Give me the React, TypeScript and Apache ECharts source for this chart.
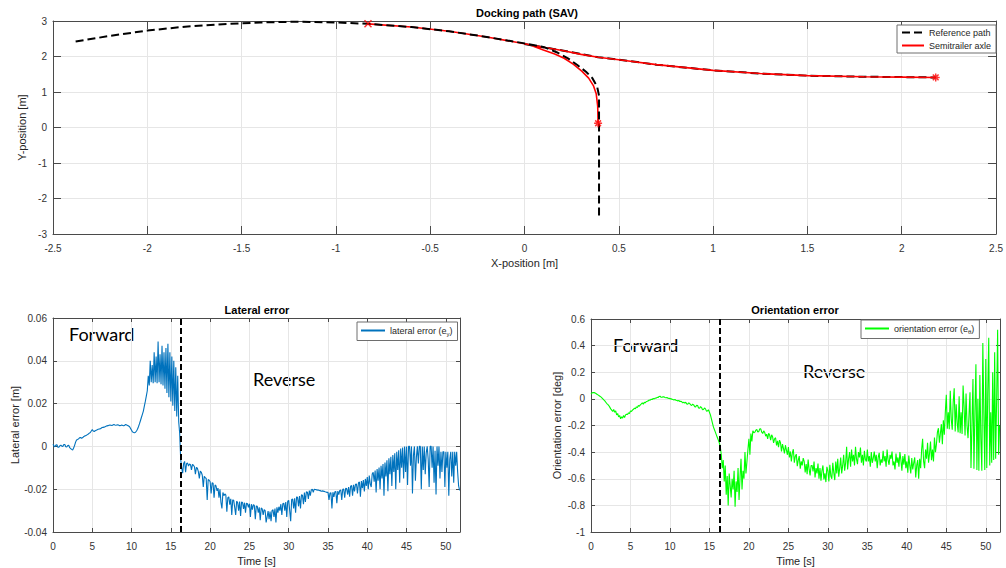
import React, { useEffect, useRef } from "react";
import * as echarts from "echarts";

// ---------- Top plot: docking path ----------
const referencePath: number[][] = [
  [-2.38, 2.42], [-2.2, 2.58], [-2.0, 2.73], [-1.8, 2.84], [-1.6, 2.91], [-1.4, 2.96],
  [-1.2, 2.98], [-1.0, 2.96], [-0.83, 2.92], [-0.6, 2.83], [-0.4, 2.71], [-0.2, 2.55],
  [-0.1, 2.46], [0.0, 2.37], [0.1, 2.27], [0.17, 2.12], [0.23, 1.95], [0.28, 1.76],
  [0.326, 1.57], [0.36, 1.39], [0.385, 1.15], [0.395, 0.9], [0.395, 0.5], [0.395, -2.58],
];
const referenceForward: number[][] = [
  [0.0, 2.35], [0.2, 2.17], [0.39, 1.98], [0.5, 1.91], [0.7, 1.77], [1.0, 1.61],
  [1.25, 1.52], [1.5, 1.46], [1.8, 1.43], [2.0, 1.42], [2.18, 1.41],
];
const semitrailerAxle: number[][] = [
  [-0.83, 2.92], [-0.6, 2.83], [-0.4, 2.71], [-0.2, 2.55], [0.0, 2.36], [0.1, 2.26],
  [0.2, 2.17], [0.3, 2.06], [0.39, 1.98], [0.5, 1.91], [0.7, 1.77], [1.0, 1.61],
  [1.25, 1.52], [1.5, 1.46], [1.8, 1.43], [2.0, 1.42], [2.18, 1.41],
  [2.0, 1.42], [1.8, 1.43], [1.5, 1.46], [1.25, 1.52], [1.0, 1.61], [0.7, 1.77],
  [0.5, 1.91], [0.39, 1.98], [0.3, 2.06], [0.2, 2.17], [0.1, 2.26], [0.04, 2.3],
  [0.1, 2.18], [0.16, 2.07], [0.21, 1.95], [0.26, 1.78], [0.305, 1.58], [0.34, 1.39],
  [0.365, 1.18], [0.38, 0.95], [0.388, 0.6], [0.39, 0.12],
];
const startMarker: number[][] = [[-0.83, 2.92]];
const endMarkers: number[][] = [[2.18, 1.41], [0.39, 0.12]];

// ---------- Bottom plots: errors sampled every SAMPLE_STEP seconds (one row = 1 s) ----------
const SAMPLE_STEP = 0.125;
const lateralError: number[] = [
  0.0010, 0.0002, -0.0002, 0.0006, 0.0008, -0.0004, -0.0004, 0.0003,
  0.0006, 0.0001, 0.0000, 0.0009, 0.0009, -0.0002, -0.0003, 0.0004,
  0.0005, -0.0006, -0.0010, -0.0014, -0.0017, -0.0008, 0.0005, 0.0020,
  0.0030, 0.0032, 0.0035, 0.0040, 0.0042, 0.0038, 0.0040, 0.0045,
  0.0048, 0.0050, 0.0052, 0.0055, 0.0058, 0.0062, 0.0065, 0.0072,
  0.0078, 0.0072, 0.0070, 0.0073, 0.0075, 0.0078, 0.0080, 0.0081,
  0.0082, 0.0085, 0.0088, 0.0089, 0.0090, 0.0092, 0.0094, 0.0096,
  0.0097, 0.0099, 0.0100, 0.0099, 0.0098, 0.0100, 0.0102, 0.0100,
  0.0099, 0.0100, 0.0101, 0.0099, 0.0097, 0.0098, 0.0100, 0.0098,
  0.0096, 0.0099, 0.0102, 0.0100, 0.0098, 0.0095, 0.0092, 0.0084,
  0.0075, 0.0068, 0.0065, 0.0064, 0.0066, 0.0072, 0.0080, 0.0092,
  0.0105, 0.0120, 0.0135, 0.0150, 0.0165, 0.0188, 0.0210, 0.0235,
  0.0260, 0.0330, 0.0285, 0.0400, 0.0300, 0.0380, 0.0295, 0.0440,
  0.0300, 0.0420, 0.0295, 0.0490, 0.0300, 0.0430, 0.0290, 0.0470,
  0.0285, 0.0440, 0.0270, 0.0460, 0.0250, 0.0480, 0.0230, 0.0440,
  0.0210, 0.0420, 0.0190, 0.0400, 0.0165, 0.0370, 0.0140, 0.0330,
  0.0115, 0.0060, -0.0060, -0.0100, -0.0125, -0.0080, -0.0070, -0.0120,
  -0.0080, -0.0078, -0.0092, -0.0082, -0.0085, -0.0110, -0.0084, -0.0088,
  -0.0095, -0.0130, -0.0098, -0.0102, -0.0118, -0.0150, -0.0115, -0.0121,
  -0.0135, -0.0190, -0.0140, -0.0146, -0.0150, -0.0250, -0.0155, -0.0158,
  -0.0165, -0.0220, -0.0170, -0.0172, -0.0240, -0.0180, -0.0185, -0.0208,
  -0.0195, -0.0240, -0.0200, -0.0262, -0.0290, -0.0215, -0.0230, -0.0222,
  -0.0228, -0.0305, -0.0240, -0.0236, -0.0272, -0.0245, -0.0320, -0.0250,
  -0.0252, -0.0285, -0.0320, -0.0256, -0.0262, -0.0300, -0.0258, -0.0325,
  -0.0260, -0.0262, -0.0292, -0.0263, -0.0310, -0.0265, -0.0268, -0.0285,
  -0.0268, -0.0330, -0.0270, -0.0295, -0.0272, -0.0276, -0.0340, -0.0278,
  -0.0280, -0.0310, -0.0285, -0.0345, -0.0288, -0.0292, -0.0320, -0.0295,
  -0.0300, -0.0355, -0.0330, -0.0302, -0.0340, -0.0304, -0.0350, -0.0300,
  -0.0296, -0.0330, -0.0290, -0.0355, -0.0285, -0.0310, -0.0282, -0.0300,
  -0.0270, -0.0320, -0.0268, -0.0265, -0.0300, -0.0260, -0.0330, -0.0256,
  -0.0252, -0.0300, -0.0350, -0.0248, -0.0246, -0.0290, -0.0243, -0.0310,
  -0.0236, -0.0238, -0.0280, -0.0232, -0.0290, -0.0226, -0.0228, -0.0270,
  -0.0216, -0.0260, -0.0212, -0.0214, -0.0245, -0.0206, -0.0230, -0.0203,
  -0.0200, -0.0215, -0.0200, -0.0201, -0.0202, -0.0205, -0.0203, -0.0207,
  -0.0205, -0.0210, -0.0208, -0.0209, -0.0210, -0.0212, -0.0213, -0.0215,
  -0.0215, -0.0250, -0.0218, -0.0217, -0.0290, -0.0214, -0.0236, -0.0212,
  -0.0211, -0.0265, -0.0209, -0.0225, -0.0206, -0.0204, -0.0250, -0.0200,
  -0.0199, -0.0240, -0.0196, -0.0197, -0.0225, -0.0190, -0.0235, -0.0186,
  -0.0183, -0.0230, -0.0180, -0.0210, -0.0177, -0.0176, -0.0220, -0.0171,
  -0.0166, -0.0235, -0.0162, -0.0195, -0.0157, -0.0210, -0.0152, -0.0185,
  -0.0143, -0.0200, -0.0136, -0.0175, -0.0190, -0.0129, -0.0121, -0.0165,
  -0.0113, -0.0215, -0.0106, -0.0160, -0.0099, -0.0200, -0.0091, -0.0150,
  -0.0082, -0.0230, -0.0075, -0.0140, -0.0065, -0.0210, -0.0055, -0.0130,
  -0.0048, -0.0185, -0.0040, -0.0120, -0.0032, -0.0200, -0.0025, -0.0110,
  -0.0018, -0.0170, -0.0010, -0.0100, -0.0005, -0.0150, 0.0000, -0.0120,
  0.0000, -0.0180, 0.0000, 0.0000, -0.0090, 0.0000, -0.0220, -0.0040,
  0.0000, -0.0160, -0.0050, 0.0000, -0.0080, 0.0000, 0.0000, -0.0200,
  0.0000, -0.0110, 0.0000, -0.0130, -0.0030, 0.0000, -0.0060, -0.0190,
  0.0000, 0.0000, -0.0100, 0.0000, -0.0170, -0.0020, -0.0225, 0.0000,
  -0.0090, 0.0000, -0.0150, -0.0025, -0.0120, -0.0025, -0.0025, -0.0190,
  -0.0025, -0.0100, -0.0025, -0.0230, -0.0060, -0.0025, -0.0140, -0.0025,
  -0.0170, -0.0025, -0.0090, -0.0025, -0.0120, -0.0185, -0.0205,
];
const orientationError: number[] = [
  0.035, 0.044, 0.048, 0.047, 0.045, 0.040, 0.035, 0.030,
  0.025, 0.020, 0.015, 0.008, 0.000, -0.008, -0.015, -0.025,
  -0.035, -0.042, -0.050, -0.062, -0.075, -0.085, -0.095, -0.080,
  -0.100, -0.090, -0.120, -0.110, -0.135, -0.125, -0.150, -0.135,
  -0.145, -0.125, -0.140, -0.120, -0.115, -0.118, -0.105, -0.110,
  -0.090, -0.095, -0.085, -0.078, -0.070, -0.075, -0.060, -0.065,
  -0.050, -0.055, -0.045, -0.038, -0.030, -0.040, -0.025, -0.030,
  -0.020, -0.018, -0.015, -0.008, -0.010, -0.002, -0.005, 0.003,
  0.000, 0.006, 0.005, 0.012, 0.010, 0.018, 0.020, 0.012,
  0.012, 0.016, 0.015, 0.010, 0.008, 0.010, 0.005, 0.004,
  0.002, 0.000, -0.002, -0.005, -0.008, -0.004, -0.010, -0.012,
  -0.015, -0.012, -0.020, -0.018, -0.022, -0.030, -0.025, -0.032,
  -0.025, -0.038, -0.040, -0.030, -0.035, -0.045, -0.050, -0.040,
  -0.045, -0.058, -0.060, -0.048, -0.050, -0.068, -0.070, -0.058,
  -0.065, -0.082, -0.080, -0.068, -0.075, -0.092, -0.090, -0.082,
  -0.100, -0.120, -0.150, -0.180, -0.210, -0.230, -0.250, -0.270,
  -0.290, -0.310, -0.330, -0.360, -0.420, -0.520, -0.460, -0.620,
  -0.500, -0.720, -0.580, -0.800, -0.560, -0.650, -0.740, -0.600,
  -0.680, -0.540, -0.810, -0.620, -0.700, -0.520, -0.760, -0.590,
  -0.450, -0.680, -0.540, -0.600, -0.400, -0.560, -0.470, -0.380,
  -0.300, -0.420, -0.260, -0.320, -0.240, -0.255, -0.250, -0.235,
  -0.230, -0.250, -0.245, -0.225, -0.225, -0.250, -0.260, -0.240,
  -0.252, -0.280, -0.265, -0.300, -0.258, -0.272, -0.310, -0.270,
  -0.285, -0.330, -0.300, -0.292, -0.350, -0.315, -0.362, -0.310,
  -0.330, -0.395, -0.340, -0.372, -0.410, -0.348, -0.385, -0.420,
  -0.362, -0.440, -0.395, -0.470, -0.405, -0.378, -0.480, -0.430,
  -0.415, -0.505, -0.460, -0.430, -0.525, -0.470, -0.500, -0.445,
  -0.470, -0.552, -0.490, -0.565, -0.455, -0.530, -0.575, -0.500,
  -0.500, -0.545, -0.470, -0.590, -0.520, -0.560, -0.485, -0.600,
  -0.520, -0.615, -0.540, -0.500, -0.605, -0.560, -0.625, -0.510,
  -0.540, -0.620, -0.495, -0.580, -0.600, -0.480, -0.555, -0.610,
  -0.470, -0.560, -0.450, -0.585, -0.520, -0.440, -0.560, -0.500,
  -0.420, -0.540, -0.480, -0.360, -0.530, -0.450, -0.400, -0.510,
  -0.380, -0.470, -0.420, -0.500, -0.360, -0.450, -0.490, -0.400,
  -0.440, -0.365, -0.480, -0.420, -0.500, -0.390, -0.455, -0.470,
  -0.380, -0.470, -0.430, -0.510, -0.400, -0.480, -0.445, -0.395,
  -0.470, -0.420, -0.520, -0.440, -0.405, -0.500, -0.455, -0.480,
  -0.390, -0.470, -0.430, -0.510, -0.380, -0.460, -0.495, -0.420,
  -0.450, -0.395, -0.500, -0.470, -0.530, -0.410, -0.480, -0.440,
  -0.510, -0.400, -0.460, -0.540, -0.430, -0.495, -0.415, -0.520,
  -0.470, -0.555, -0.425, -0.500, -0.560, -0.445, -0.530, -0.480,
  -0.440, -0.590, -0.500, -0.460, -0.600, -0.450, -0.520, -0.380,
  -0.300, -0.470, -0.520, -0.380, -0.450, -0.330, -0.480, -0.410,
  -0.320, -0.460, -0.380, -0.470, -0.290, -0.400, -0.340, -0.250,
  -0.220, -0.330, -0.260, -0.190, -0.340, -0.160, -0.270, -0.100,
  0.030, -0.225, -0.100, -0.228, 0.060, -0.150, -0.232, -0.020,
  0.080, -0.245, -0.040, -0.180, -0.252, 0.020, -0.258, -0.100,
  -0.263, 0.100, -0.060, -0.275, 0.040, -0.200, -0.295, -0.120,
  0.050, -0.520, -0.200, 0.150, -0.525, -0.100, 0.260, -0.535,
  0.000, -0.540, 0.180, -0.300, -0.540, 0.420, -0.100, -0.535,
  0.300, -0.520, 0.050, 0.460, -0.500, -0.100, -0.480, 0.200,
  -0.460, 0.350, -0.450, 0.000, 0.520, -0.420, -0.200,
];
const switchTimeLateral = 16.2;
const switchTimeOrientation = 16.3;
const TIME_MAX = 51.8;

const FONT = '"Liberation Sans", Arial, Helvetica, sans-serif';
const ANNOT_FONT = 'Lato, "Open Sans", sans-serif';
const AXIS_COLOR = "#4a4a4a";
const LABEL_COLOR = "#333";
const GRID_COLOR = "#e6e6e6";

function mainX(gridIndex: number, min: number, max: number, interval: number, name: string, tickLen: number, showMax: boolean) {
  return {
    type: "value", gridIndex, min, max, interval, name,
    nameLocation: "middle", nameGap: 23,
    nameTextStyle: { color: "#262626", fontSize: 11, fontFamily: FONT },
    axisLine: { show: true, onZero: false, lineStyle: { color: AXIS_COLOR, width: 1 } },
    axisTick: { show: true, inside: true, length: tickLen, lineStyle: { color: AXIS_COLOR } },
    axisLabel: { color: LABEL_COLOR, fontSize: 10, fontFamily: FONT, margin: 9, showMaxLabel: showMax },
    splitLine: { show: true, lineStyle: { color: GRID_COLOR, width: 1 } },
  };
}
function mirrorX(gridIndex: number, min: number, max: number, interval: number, tickLen: number) {
  return {
    type: "value", gridIndex, min, max, interval, position: "top",
    axisLine: { show: true, onZero: false, lineStyle: { color: AXIS_COLOR, width: 1 } },
    axisTick: { show: true, inside: true, length: tickLen, lineStyle: { color: AXIS_COLOR } },
    axisLabel: { show: false },
    splitLine: { show: false },
  };
}
function mainY(gridIndex: number, min: number, max: number, interval: number, name: string, nameGap: number, tickLen: number) {
  return {
    type: "value", gridIndex, min, max, interval, name,
    nameLocation: "middle", nameGap,
    nameTextStyle: { color: "#262626", fontSize: 11, fontFamily: FONT },
    axisLine: { show: true, onZero: false, lineStyle: { color: AXIS_COLOR, width: 1 } },
    axisTick: { show: true, inside: true, length: tickLen, lineStyle: { color: AXIS_COLOR } },
    axisLabel: { color: LABEL_COLOR, fontSize: 10, fontFamily: FONT, margin: 6 },
    splitLine: { show: true, lineStyle: { color: GRID_COLOR, width: 1 } },
  };
}
function mirrorY(gridIndex: number, min: number, max: number, interval: number, tickLen: number) {
  return {
    type: "value", gridIndex, min, max, interval, position: "right",
    axisLine: { show: true, onZero: false, lineStyle: { color: AXIS_COLOR, width: 1 } },
    axisTick: { show: true, inside: true, length: tickLen, lineStyle: { color: AXIS_COLOR } },
    axisLabel: { show: false },
    splitLine: { show: false },
  };
}

const ASTERISK = "path://M0,-5L0,5M-5,0L5,0M-3.6,-3.6L3.6,3.6M-3.6,3.6L3.6,-3.6";
const CROSS = "path://M-4,-4L4,4M-4,4L4,-4";

function textEl(text: string, x: number, y: number, size: number, opts: any = {}) {
  return {
    type: "text", x, y, silent: true,
    style: {
      text, fill: opts.fill || "#000", fontSize: size, fontFamily: opts.family || FONT,
      fontWeight: opts.weight || "normal",
      textAlign: opts.align || "left", align: opts.align || "left",
      textVerticalAlign: "middle", verticalAlign: "middle",
    },
  };
}

const richSub = {
  n: { fontSize: 9, lineHeight: 12, fontFamily: FONT, color: "#262626", verticalAlign: "middle" },
  s: { fontSize: 6, lineHeight: 6, fontFamily: FONT, color: "#262626", verticalAlign: "bottom" },
};

export default function App() {
  const ref = useRef<HTMLDivElement>(null);
  useEffect(() => {
    if (!ref.current) return;
    const chart = echarts.init(ref.current, null, { renderer: "svg" });
    const lateralData = lateralError.map((v, i) => [i * SAMPLE_STEP, v]);
    const orientationData = orientationError.map((v, i) => [i * SAMPLE_STEP, v]);
    const legendBase = {
      orient: "vertical",
      borderColor: "#6e6e6e", borderWidth: 1, backgroundColor: "#fff",
      itemGap: 4,
      itemStyle: { opacity: 0 },
      textStyle: { color: "#262626", fontSize: 9, fontFamily: FONT },
    };
    const option: any = {
      animation: false,
      backgroundColor: "#fff",
      textStyle: { fontFamily: FONT },
      grid: [
        { left: 53, top: 21, width: 947, height: 213 },
        { left: 53, top: 318, width: 407, height: 214 },
        { left: 591, top: 319, width: 409, height: 213 },
      ],
      xAxis: [
        mainX(0, -2.5, 2.5, 0.5, "X-position [m]", 8, true),
        mirrorX(0, -2.5, 2.5, 0.5, 8),
        mainX(1, 0, TIME_MAX, 5, "Time [s]", 4, false),
        mirrorX(1, 0, TIME_MAX, 5, 4),
        mainX(2, 0, TIME_MAX, 5, "Time [s]", 4, false),
        mirrorX(2, 0, TIME_MAX, 5, 4),
      ],
      yAxis: [
        mainY(0, -3, 3, 1, "Y-position [m]", 19, 8),
        mirrorY(0, -3, 3, 1, 8),
        mainY(1, -0.04, 0.06, 0.02, "Lateral error [m]", 33, 4),
        mirrorY(1, -0.04, 0.06, 0.02, 4),
        mainY(2, -1, 0.6, 0.2, "Orientation error [deg]", 29, 4),
        mirrorY(2, -1, 0.6, 0.2, 4),
      ],
      legend: [
        {
          ...legendBase,
          left: 897, top: 25, padding: [3, 5, 3, 4],
          itemWidth: 22, itemHeight: 9,
          data: ["Reference path", "Semitrailer axle"],
        },
        {
          ...legendBase,
          left: 357, top: 322, padding: [4, 5, 4, 3],
          itemWidth: 24, itemHeight: 10,
          data: ["lateral error (e_y)"],
          formatter: () => "{n|lateral error (e}{s|y}{n|)}",
          textStyle: { ...legendBase.textStyle, rich: richSub },
        },
        {
          ...legendBase,
          left: 861, top: 320, padding: [4, 5, 4, 3],
          itemWidth: 24, itemHeight: 10,
          data: ["orientation error (e_θ)"],
          formatter: () => "{n|orientation error (e}{s|θ}{n|)}",
          textStyle: { ...legendBase.textStyle, rich: richSub },
        },
      ],
      series: [
        {
          name: "Reference path (forward)", type: "line", xAxisIndex: 0, yAxisIndex: 0,
          data: referenceForward, symbol: "none", z: 1,
          lineStyle: { color: "#000", width: 2, type: [8, 4] },
        },
        {
          name: "Semitrailer axle", type: "line", xAxisIndex: 0, yAxisIndex: 0,
          data: semitrailerAxle, symbol: "none", z: 2,
          lineStyle: { color: "#ff0000", width: 1.6 }, itemStyle: { color: "#ff0000" },
        },
        {
          name: "Reference path", type: "line", xAxisIndex: 0, yAxisIndex: 0,
          data: referencePath, symbol: "none", z: 3,
          lineStyle: { color: "#000", width: 2, type: [8, 4] }, itemStyle: { color: "#000" },
        },
        {
          name: "start", type: "scatter", xAxisIndex: 0, yAxisIndex: 0, z: 4,
          data: startMarker, symbol: CROSS, symbolSize: 7,
          itemStyle: { color: "transparent", borderColor: "#ff0000", borderWidth: 1.5 },
        },
        {
          name: "end", type: "scatter", xAxisIndex: 0, yAxisIndex: 0, z: 4,
          data: endMarkers, symbol: ASTERISK, symbolSize: 8,
          itemStyle: { color: "transparent", borderColor: "#ff0000", borderWidth: 1.5 },
        },
        {
          name: "lateral error (e_y)", type: "line", xAxisIndex: 2, yAxisIndex: 2,
          data: lateralData, symbol: "none",
          lineStyle: { color: "#0072BD", width: 1.1 }, itemStyle: { color: "#0072BD" },
          markLine: {
            silent: true, symbol: ["none", "none"], label: { show: false },
            lineStyle: { color: "#000", type: [6, 3], width: 2 },
            data: [{ xAxis: switchTimeLateral }],
          },
        },
        {
          name: "orientation error (e_θ)", type: "line", xAxisIndex: 4, yAxisIndex: 4,
          data: orientationData, symbol: "none",
          lineStyle: { color: "#00ff00", width: 1.1 }, itemStyle: { color: "#00ff00" },
          markLine: {
            silent: true, symbol: ["none", "none"], label: { show: false },
            lineStyle: { color: "#000", type: [6, 3], width: 2 },
            data: [{ xAxis: switchTimeOrientation }],
          },
        },
      ],
      graphic: [
        textEl("Docking path (SAV)", 527, 13, 11, { weight: "bold", align: "center" }),
        textEl("Lateral error", 257, 310, 11, { weight: "bold", align: "center" }),
        textEl("Orientation error", 795, 310, 11, { weight: "bold", align: "center" }),
        textEl("Forward", 69, 334, 18, { family: ANNOT_FONT }),
        textEl("Reverse", 253, 379, 18, { family: ANNOT_FONT }),
        textEl("Forward", 613, 345, 18, { family: ANNOT_FONT }),
        textEl("Reverse", 803, 371, 18, { family: ANNOT_FONT }),
      ],
    };
    chart.setOption(option);
    return () => chart.dispose();
  }, []);
  return (
    <div
      ref={ref}
      style={{ position: "fixed", left: 0, top: 0, width: 1006, height: 568, background: "#fff" }}
    />
  );
}
